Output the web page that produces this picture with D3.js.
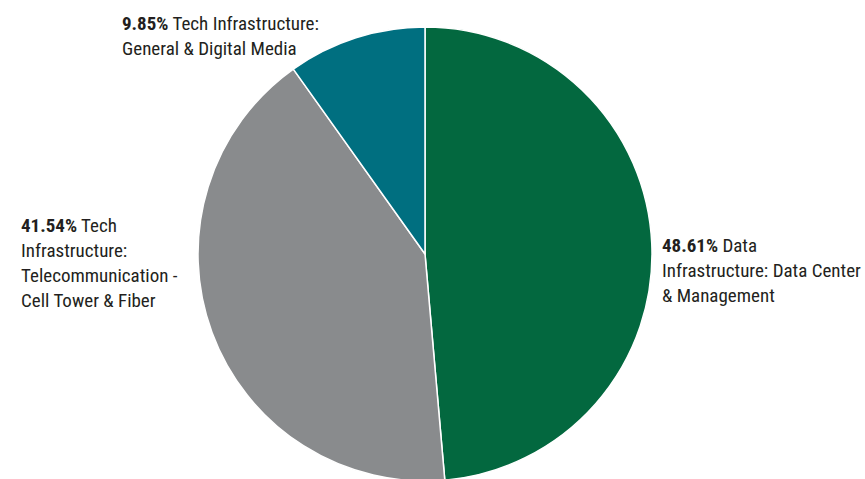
<!DOCTYPE html>
<html>
<head>
<meta charset="utf-8">
<script src="https://cdn.jsdelivr.net/npm/d3@7"></script>
<style>
  html, body { margin: 0; padding: 0; background: #fff; }
  svg { display: block; }
  .lbl { font-family: "Liberation Sans Narrow", "Roboto Condensed", "Arial Narrow", sans-serif; font-size: 19px; fill: #231f20; }
  .pct { font-weight: bold; }
</style>
</head>
<body>
<svg id="chart" width="865" height="479"></svg>
<script>
// Allocation by sector (percent)
const categories = [
  "Data Infrastructure: Data Center & Management",
  "Tech Infrastructure: Telecommunication - Cell Tower & Fiber",
  "Tech Infrastructure: General & Digital Media"
];
const values = [48.61, 41.54, 9.85];
const colors = ["#03683f", "#898b8d", "#006f80"];
// Label text broken into display lines (first line follows the bold percentage)
const labelLines = [
  ["Data", "Infrastructure: Data Center", "& Management"],
  ["Tech", "Infrastructure:", "Telecommunication -", "Cell Tower & Fiber"],
  ["Tech Infrastructure:", "General & Digital Media"]
];
// Label anchor (left edge, first baseline)
const labelPos = [[662, 252], [21, 232], [122, 30]];

const width = 865, height = 479;
const cx = 425, cy = 254, radius = 227;
const lineH = 25;

const svg = d3.select("#chart");

const data = categories.map((c, i) => ({ name: c, value: values[i], color: colors[i], lines: labelLines[i], pos: labelPos[i] }));

const pie = d3.pie().sort(null).value(d => d.value);
const arc = d3.arc().innerRadius(0).outerRadius(radius);

const g = svg.append("g").attr("transform", `translate(${cx},${cy})`);
g.selectAll("path")
  .data(pie(data))
  .join("path")
  .attr("d", arc)
  .attr("fill", d => d.data.color)
  .attr("stroke", "#fff")
  .attr("stroke-width", 1.5)
  .attr("stroke-linejoin", "round");

const fmt = d3.format(".2f");
const labels = svg.selectAll("text.lbl")
  .data(data)
  .join("text")
  .attr("class", "lbl")
  .attr("x", d => d.pos[0])
  .attr("y", d => d.pos[1]);

labels.each(function(d) {
  const t = d3.select(this);
  d.lines.forEach((line, i) => {
    if (i === 0) {
      t.append("tspan").attr("class", "pct").attr("x", d.pos[0]).text(fmt(d.value) + "%");
      t.append("tspan").text(" " + line);
    } else {
      t.append("tspan").attr("x", d.pos[0]).attr("dy", lineH).text(line);
    }
  });
});
</script>
</body>
</html>
